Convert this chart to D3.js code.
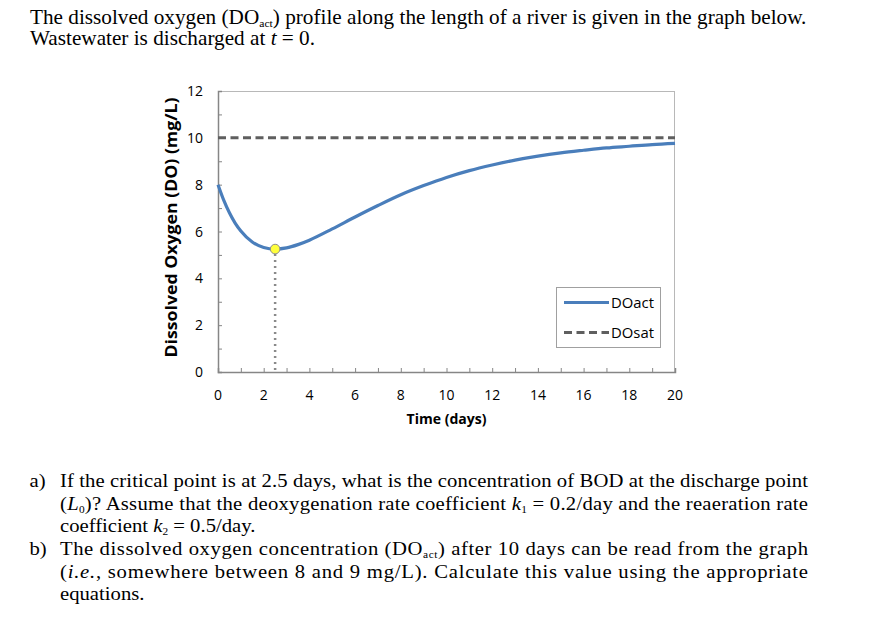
<!DOCTYPE html>
<html><head><meta charset="utf-8">
<script src="https://cdn.jsdelivr.net/npm/d3@7"></script>
<style>html,body{margin:0;padding:0;background:#fff;} svg{display:block;}</style>
</head><body>
<script>
// ---- data ----
const days  = [0, 0.25, 0.5, 0.75, 1, 1.5, 2, 2.5, 3, 3.5, 4, 5, 6, 7, 8, 9, 10, 11, 12, 13, 14, 15, 16, 17, 18, 19, 20];
const doAct = [8.00, 7.34, 6.80, 6.36, 6.02, 5.55, 5.32, 5.25, 5.30, 5.44, 5.63, 6.11, 6.62, 7.11, 7.57, 7.96, 8.31, 8.60, 8.84, 9.05, 9.22, 9.36, 9.47, 9.57, 9.64, 9.71, 9.76];
const satDays = [0, 20];
const doSat   = [10, 10];
const criticalT  = [2.5];
const criticalDO = [5.25];
const xTickLabels = [0, 2, 4, 6, 8, 10, 12, 14, 16, 18, 20];
const yTickLabels = [0, 2, 4, 6, 8, 10, 12];
const seriesNames = ["DOact", "DOsat"];
const xTitle = "Time (days)";
const yTitle = "Dissolved Oxygen (DO) (mg/L)";

const W = 886, H = 630;
const svg = d3.select("body").append("svg").attr("width", W).attr("height", H);
svg.append("rect").attr("width", W).attr("height", H).attr("fill", "#fff");

// ---- text block ----
const serif = "'Liberation Serif','Times New Roman',serif";
function addLine(parts, x, y, size, sx, justifyW) {
  const t = svg.append("text").attr("font-family", serif).attr("font-size", size)
    .attr("fill", "#000").attr("transform", `translate(${x},${y}) scale(${sx},1)`);
  let shift = 0;
  parts.forEach(p => {
    const [txt, st] = typeof p === "string" ? [p, ""] : p;
    const ts = t.append("tspan").text(txt);
    const wantSub = st.includes("s");
    const d = wantSub ? 3 : 0;
    if (d !== shift) { ts.attr("dy", d - shift); shift = d; }
    if (wantSub) ts.attr("font-size", size * 0.55);
    if (st.includes("i")) ts.attr("font-style", "italic");
  });
  if (justifyW) {
    t.attr("textLength", justifyW / sx).attr("lengthAdjust", "spacing");
  }
  return t;
}
// measure a natural width to derive the horizontal compression of the page text
const probe = addLine(["The dissolved oxygen (DO", ["act", "s"], ") profile along the length of a river is given in the graph below."], 30, 24, 20, 1);
const nat = probe.node().getComputedTextLength();
probe.remove();
const sx = 777 / nat;

addLine(["The dissolved oxygen (DO", ["act", "s"], ") profile along the length of a river is given in the graph below."], 30, 24, 20, sx);
addLine(["Wastewater is discharged at ", ["t", "i"], " = 0."], 30, 45, 20, sx);

const qs = 19.5;
addLine(["a)"], 29.5, 487, qs, sx);
addLine(["If the critical point is at 2.5 days, what is the concentration of BOD at the discharge point"], 60, 487, qs, sx, 748);
addLine(["(", ["L", "i"], ["0", "s"], ")? Assume that the deoxygenation rate coefficient ", ["k", "i"], ["1", "s"], " = 0.2/day and the reaeration rate"], 60, 510, qs, sx, 748);
addLine(["coefficient ", ["k", "i"], ["2", "s"], " = 0.5/day."], 60, 532, qs, sx);
addLine(["b)"], 29.5, 555, qs, sx);
addLine(["The dissolved oxygen concentration (DO", ["act", "s"], ") after 10 days can be read from the graph"], 60, 555, qs, sx, 748);
addLine(["(", ["i.e.", "i"], ", somewhere between 8 and 9 mg/L). Calculate this value using the appropriate"], 60, 578, qs, sx, 748);
addLine(["equations."], 60, 600, qs, sx);

// ---- chart ----
const sans = "'Open Sans','Liberation Sans',sans-serif";
const m = {left: 218, right: 675, top: 91, bottom: 372};
const x = d3.scaleLinear().domain([0, 20]).range([m.left, m.right]);
const y = d3.scaleLinear().domain([0, 12]).range([m.bottom, m.top]);

const g = svg.append("g");
// frame (top & right lighter)
g.append("line").attr("x1", m.left).attr("x2", m.right).attr("y1", m.top + 0.5).attr("y2", m.top + 0.5).attr("stroke", "#b8b8b8");
g.append("line").attr("x1", m.right - 0.5).attr("x2", m.right - 0.5).attr("y1", m.top).attr("y2", m.bottom).attr("stroke", "#b8b8b8");

// axes with inside minor ticks every unit
const xAxis = d3.axisBottom(x).tickValues(d3.range(0, 21, 1)).tickSize(-4).tickFormat("");
const yAxis = d3.axisLeft(y).tickValues(d3.range(0, 13, 1)).tickSize(-4).tickFormat("");
const gx = g.append("g").attr("transform", `translate(0,${m.bottom})`).call(xAxis);
const gy = g.append("g").attr("transform", `translate(${m.left},0)`).call(yAxis);
[gx, gy].forEach(a => {
  a.select(".domain").attr("stroke", "#868686").attr("stroke-width", 1.5);
  a.selectAll(".tick line").attr("stroke", "#868686");
});

// tick labels
g.selectAll(".xl").data(xTickLabels).join("text").attr("class", "xl")
  .attr("x", d => x(d)).attr("y", 400).attr("text-anchor", "middle")
  .attr("font-family", sans).attr("font-size", 14).attr("fill", "#000").text(d => d);
g.selectAll(".yl").data(yTickLabels).join("text").attr("class", "yl")
  .attr("x", 203).attr("y", d => y(d)).attr("dy", "0.36em").attr("text-anchor", "end")
  .attr("font-family", sans).attr("font-size", 14).attr("fill", "#000").text(d => d);

// axis titles
g.append("text").attr("x", (m.left + m.right) / 2).attr("y", 424).attr("text-anchor", "middle")
  .attr("font-family", sans).attr("font-weight", "bold").attr("font-size", 14.5).attr("fill", "#000")
  .attr("textLength", 80).attr("lengthAdjust", "spacingAndGlyphs").text(xTitle);
g.append("text").attr("transform", `translate(176.5,${(m.top + m.bottom) / 2 - 4}) rotate(-90)`).attr("text-anchor", "middle")
  .attr("font-family", sans).attr("font-weight", "bold").attr("font-size", 15.5).attr("fill", "#000")
  .attr("textLength", 260).attr("lengthAdjust", "spacingAndGlyphs").text(yTitle);

// DOsat dashed
const line = d3.line().x(d => x(d[0])).y(d => y(d[1]));
g.append("path").datum(d3.zip(satDays, doSat)).attr("d", line)
  .attr("fill", "none").attr("stroke", "#5f5f5f").attr("stroke-width", 3).attr("stroke-dasharray", "8,4.5");

// DOact curve
const curve = d3.line().x(d => x(d[0])).y(d => y(d[1])).curve(d3.curveMonotoneX);
g.append("path").datum(d3.zip(days, doAct)).attr("d", curve)
  .attr("fill", "none").attr("stroke", "#4a7ebb").attr("stroke-width", 3.2).attr("stroke-linejoin", "round");

// critical point drop line and marker
g.selectAll(".drop").data(d3.zip(criticalT, criticalDO)).join("line").attr("class", "drop")
  .attr("x1", d => x(d[0])).attr("x2", d => x(d[0])).attr("y1", d => y(d[1]) + 5).attr("y2", y(0))
  .attr("stroke", "#8a8a8a").attr("stroke-width", 2.5).attr("stroke-dasharray", "2,4");
g.selectAll(".crit").data(d3.zip(criticalT, criticalDO)).join("circle").attr("class", "crit")
  .attr("cx", d => x(d[0])).attr("cy", d => y(d[1])).attr("r", 4.8)
  .attr("fill", "#ffff3c").attr("stroke", "#8c8c8c").attr("stroke-width", 1);

// legend
const lg = g.append("g");
lg.append("rect").attr("x", 556.5).attr("y", 287.5).attr("width", 104).attr("height", 60)
  .attr("fill", "#fff").attr("stroke", "#a0a0a0").attr("stroke-width", 1);
const legStyles = [{c: "#4a7ebb", dash: null}, {c: "#5f5f5f", dash: "8,4.5"}];
seriesNames.forEach((n, i) => {
  const yy = 302.5 + i * 30;
  lg.append("line").attr("x1", 564).attr("x2", 609).attr("y1", yy).attr("y2", yy)
    .attr("stroke", legStyles[i].c).attr("stroke-width", 3).attr("stroke-dasharray", legStyles[i].dash);
  lg.append("text").attr("x", 611).attr("y", yy).attr("dy", "0.36em")
    .attr("font-family", sans).attr("font-size", 14).attr("fill", "#000")
    .attr("textLength", 43).attr("lengthAdjust", "spacingAndGlyphs").text(n);
});
</script>
</body></html>
